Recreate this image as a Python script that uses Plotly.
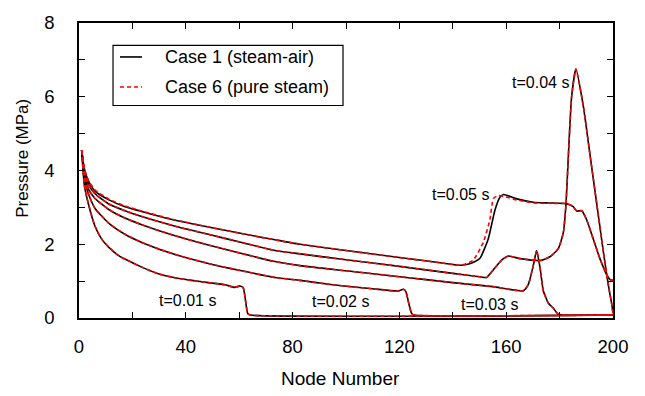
import plotly.graph_objects as go

# ---------------- data ----------------
# Case 1 (steam-air), black solid
c1_t01_x = [1, 2, 3.5, 6, 8.5, 11, 14.7, 17.2, 23.5, 29.7, 36, 42.2, 48.4, 54.7, 58.4, 60.3, 61.5, 62.2, 63.2, 64.2, 200]
c1_t01_y = [4.55, 3.6, 3.1, 2.49, 2.14, 1.93, 1.7, 1.6, 1.38, 1.2, 1.09, 1.02, 0.96, 0.9, 0.83, 0.87, 0.82, 0.56, 0.12, 0.08, 0.08]

c1_t02_x = [1, 2, 3.5, 6, 11, 17.2, 23.5, 36, 48.4, 60.9, 73.4, 82.8, 95, 109, 119.6, 121.5, 122.4, 123.5, 124.6, 125.5, 200]
c1_t02_y = [4.55, 3.85, 3.37, 2.97, 2.58, 2.27, 2.05, 1.72, 1.48, 1.28, 1.1, 1.02, 0.9, 0.8, 0.73, 0.78, 0.72, 0.4, 0.12, 0.08, 0.08]

c1_t03_x = [1, 2, 3.5, 6, 11, 17.2, 23.5, 36, 48.4, 60.9, 73.4, 82.8, 100, 120, 140, 155, 166.4, 168.3, 170.2, 171.4, 172.7, 173.9, 175.8, 177.6, 179.5, 181, 200]
c1_t03_y = [4.55, 3.95, 3.5, 3.24, 2.95, 2.71, 2.53, 2.23, 1.98, 1.75, 1.53, 1.42, 1.28, 1.12, 0.96, 0.85, 0.74, 0.91, 1.44, 1.83, 1.35, 0.74, 0.4, 0.27, 0.1, 0.08, 0.08]

c1_t04_x = [1, 2, 3.5, 6, 11, 17.2, 23.5, 36, 48.4, 60.9, 73.4, 82.8, 100, 120, 140, 150, 152.7, 155.2, 158.3, 160.8, 165.2, 172.7, 176.4, 179.5, 181.4, 182.4, 183.3, 184.5, 186.1, 188.9, 191.4, 193.9, 196.4, 198.2, 199.5, 200]
c1_t04_y = [4.55, 4.0, 3.63, 3.37, 3.1, 2.91, 2.75, 2.49, 2.27, 2.05, 1.83, 1.74, 1.58, 1.4, 1.21, 1.12, 1.1, 1.31, 1.57, 1.68, 1.61, 1.56, 1.66, 1.88, 2.32, 3.1, 4.42, 6.0, 6.75, 5.74, 4.42, 3.1, 1.79, 0.91, 0.39, 0.13]

c1_t05_x = [1, 2, 3.5, 6, 11, 17.2, 23.5, 36, 48.4, 60.9, 73.4, 82.8, 100, 120, 135.2, 142.7, 145.2, 148, 150.2, 153.3, 155.8, 157.7, 159, 164, 170.2, 176, 182.7, 185.1, 186.4, 188.3, 190.1, 192.6, 195.1, 197.6, 198.9, 200]
c1_t05_y = [4.55, 4.05, 3.72, 3.44, 3.21, 3.02, 2.89, 2.65, 2.47, 2.29, 2.12, 2.0, 1.83, 1.64, 1.5, 1.43, 1.45, 1.52, 1.62, 2.15, 2.93, 3.28, 3.35, 3.23, 3.14, 3.12, 3.1, 3.02, 2.9, 2.91, 2.67, 2.14, 1.61, 1.18, 1.04, 1.02]

# Case 6 (pure steam), red dashed: coincides with Case 1 except the t=0.05 s front
c6_t01_x, c6_t01_y = c1_t01_x, c1_t01_y
c6_t02_x, c6_t02_y = c1_t02_x, c1_t02_y
c6_t03_x, c6_t03_y = c1_t03_x, c1_t03_y
c6_t04_x, c6_t04_y = c1_t04_x, c1_t04_y
c6_t05_x = [1, 2, 3.5, 6, 11, 17.2, 23.5, 36, 48.4, 60.9, 73.4, 82.8, 100, 120, 135.2, 142.7, 145, 147.7, 151.4, 153.9, 155.2, 157, 159, 164, 170.2, 176, 182.7, 185.1, 186.4, 188.3, 190.1, 192.6, 195.1, 197.6, 198.9, 200]
c6_t05_y = [4.55, 4.05, 3.74, 3.47, 3.23, 3.04, 2.9, 2.66, 2.47, 2.29, 2.12, 2.0, 1.83, 1.64, 1.5, 1.43, 1.47, 1.57, 2.05, 2.67, 3.24, 3.32, 3.3, 3.2, 3.12, 3.11, 3.1, 3.02, 2.9, 2.91, 2.67, 2.14, 1.61, 1.18, 1.04, 1.02]

case1_curves = [(c1_t01_x, c1_t01_y), (c1_t02_x, c1_t02_y), (c1_t03_x, c1_t03_y),
                (c1_t04_x, c1_t04_y), (c1_t05_x, c1_t05_y)]
case6_curves = [(c6_t01_x, c6_t01_y), (c6_t02_x, c6_t02_y), (c6_t03_x, c6_t03_y),
                (c6_t04_x, c6_t04_y), (c6_t05_x, c6_t05_y)]

series_names = ["Case 1 (steam-air)", "Case 6 (pure steam)"]
series_colors = ["black", "red"]
series_dash = ["solid", "4px,3px"]

time_labels = ["t=0.01 s", "t=0.02 s", "t=0.03 s", "t=0.04 s", "t=0.05 s"]
time_label_x = [40.8, 97.8, 153.9, 172.8, 142.9]
time_label_y = [0.47, 0.45, 0.36, 6.39, 3.34]

x_tickvals = [0, 20, 40, 60, 80, 100, 120, 140, 160, 180, 200]
x_ticktext = ["0", "", "40", "", "80", "", "120", "", "160", "", "200"]
y_tickvals = [0, 1, 2, 3, 4, 5, 6, 7, 8]
y_ticktext = ["0", "", "2", "", "4", "", "6", "", "8"]

FONT = "Liberation Sans, Arial, Helvetica, sans-serif"

fig = go.Figure()

for i, (xs, ys) in enumerate(case1_curves):
    fig.add_trace(go.Scatter(
        x=xs, y=ys, mode="lines", name=series_names[0],
        legendgroup="c1", showlegend=False,
        line=dict(color=series_colors[0], width=1.6, shape="spline", smoothing=0.5),
    ))
for i, (xs, ys) in enumerate(case6_curves):
    fig.add_trace(go.Scatter(
        x=xs, y=ys, mode="lines", name=series_names[1],
        legendgroup="c6", showlegend=False,
        line=dict(color=series_colors[1], width=1.6, dash=series_dash[1],
                  shape="spline", smoothing=0.5),
    ))

for txt, tx, ty in zip(time_labels, time_label_x, time_label_y):
    fig.add_annotation(x=tx, y=ty, text=txt, showarrow=False,
                       xanchor="center", yanchor="middle",
                       font=dict(family=FONT, size=16, color="black"))

# axis titles
fig.add_annotation(xref="paper", yref="paper", x=-0.1073, y=0.5418,
                   text="Pressure (MPa)", textangle=-90, showarrow=False,
                   xanchor="center", yanchor="middle",
                   font=dict(family=FONT, size=17, color="black"))
fig.add_annotation(xref="paper", yref="paper", x=0.4906, y=-0.204,
                   text="Node Number", showarrow=False,
                   xanchor="center", yanchor="middle",
                   font=dict(family=FONT, size=19, color="black"))

# legend box (drawn in paper coordinates inside the plot)
leg_x0, leg_x1, leg_y0, leg_y1 = 0.0637, 0.4944, 0.7204, 0.9243
leg_rows = [0.8849, 0.7829]
fig.add_shape(type="rect", xref="paper", yref="paper",
              x0=leg_x0, x1=leg_x1, y0=leg_y0, y1=leg_y1,
              line=dict(color="black", width=1.2), fillcolor="white", layer="above")
for name, col, dsh, ry in zip(series_names, series_colors, series_dash, leg_rows):
    fig.add_shape(type="line", xref="paper", yref="paper",
                  x0=0.0768, x1=0.118, y0=ry, y1=ry,
                  line=dict(color=col, width=1.6, dash=dsh), layer="above")
    fig.add_annotation(xref="paper", yref="paper", x=0.1573, y=ry, text=name,
                       showarrow=False, xanchor="left", yanchor="middle",
                       font=dict(family=FONT, size=18, color="black"))

axis_common = dict(
    showline=True, linecolor="black", linewidth=1.6, mirror="ticks",
    ticks="inside", ticklen=6, tickwidth=1.4, tickcolor="black",
    showgrid=False, zeroline=False,
    tickfont=dict(family=FONT, size=18.5, color="black"),
)

fig.update_xaxes(range=[0, 200], tickmode="array", tickvals=x_tickvals,
                 ticktext=x_ticktext, ticklabelstandoff=11, **axis_common)
fig.update_yaxes(range=[0, 8], tickmode="array", tickvals=y_tickvals,
                 ticktext=y_ticktext, ticklabelstandoff=19, **axis_common)

fig.update_layout(
    width=645, height=396,
    margin=dict(l=79, r=32, t=14, b=78),
    plot_bgcolor="white", paper_bgcolor="white",
    font=dict(family=FONT, color="black"),
    showlegend=False,
)

fig.write_html("out.html")
